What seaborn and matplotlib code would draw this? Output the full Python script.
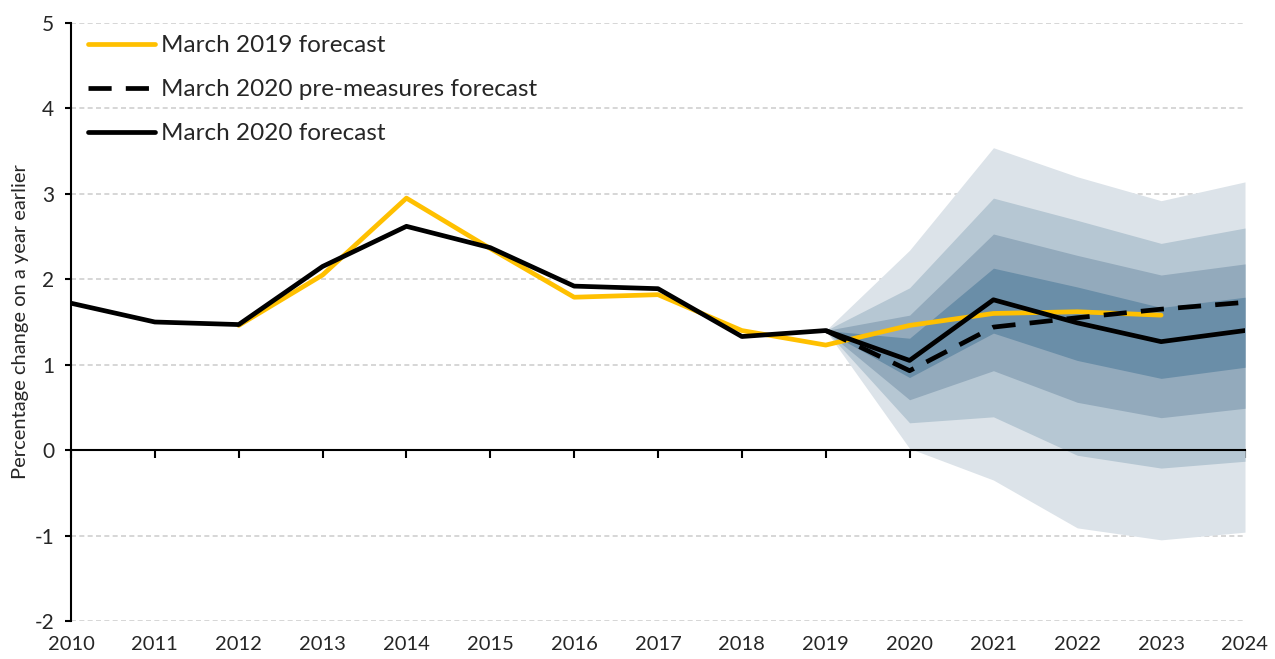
import matplotlib
matplotlib.use("Agg")
import matplotlib.pyplot as plt
import seaborn as sns
import pandas as pd
import numpy as np

# --- data ---
years = list(range(2010, 2025))
march2020 = [1.72, 1.50, 1.47, 2.15, 2.62, 2.37, 1.92, 1.89, 1.33, 1.40,
             1.05, 1.76, 1.49, 1.27, 1.40]

years_2019fc = list(range(2012, 2024))
march2019 = [1.46, 2.05, 2.95, 2.36, 1.79, 1.82, 1.40, 1.23,
             1.46, 1.60, 1.62, 1.58]

years_pre = list(range(2019, 2025))
pre_measures = [1.40, 0.93, 1.44, 1.55, 1.65, 1.73]

# fan chart boundaries (2019 = start point)
fan_years = list(range(2019, 2025))
fan_hi3 = [1.40, 2.34, 3.54, 3.20, 2.92, 3.14]
fan_hi2 = [1.40, 1.90, 2.95, 2.69, 2.42, 2.60]
fan_hi1 = [1.40, 1.58, 2.53, 2.28, 2.05, 2.18]
fan_hi0 = [1.40, 1.31, 2.13, 1.91, 1.67, 1.79]
fan_lo0 = [1.40, 0.85, 1.37, 1.05, 0.84, 0.97]
fan_lo1 = [1.40, 0.59, 0.93, 0.56, 0.38, 0.49]
fan_lo2 = [1.40, 0.32, 0.39, -0.06, -0.21, -0.13]
fan_lo3 = [1.40, 0.02, -0.35, -0.91, -1.05, -0.96]

fan_colours = ["#dce3e9", "#b6c7d3", "#93aabc", "#6a8ea8"]

yticks = [-2, -1, 0, 1, 2, 3, 4, 5]

sns.set_style("white")
plt.rcParams["font.family"] = ["Lato", "DejaVu Sans"]
plt.rcParams["axes.unicode_minus"] = False

fig = plt.figure(figsize=(12.75, 6.59), dpi=100)
ax = fig.add_axes([71 / 1275, 1 - 621 / 659, (1245 - 71) / 1275, (621 - 23) / 659])

# gridlines
for v in yticks:
    if v != 0:
        ax.axhline(v, color="#d0d0d0", lw=1.2, ls=(0, (3, 2)), zorder=0)

# fan
bands = [(fan_lo3, fan_hi3), (fan_lo2, fan_hi2), (fan_lo1, fan_hi1), (fan_lo0, fan_hi0)]
for (lo, hi), col in zip(bands, fan_colours):
    ax.fill_between(fan_years, lo, hi, color=col, lw=0, zorder=1)

df20 = pd.DataFrame({"year": years, "value": march2020})
df19 = pd.DataFrame({"year": years_2019fc, "value": march2019})
dfpre = pd.DataFrame({"year": years_pre, "value": pre_measures})

sns.lineplot(data=df19, x="year", y="value", ax=ax, color="#ffc000", lw=3.4,
             zorder=3, label="March 2019 forecast")
sns.lineplot(data=dfpre, x="year", y="value", ax=ax, color="black", lw=3.4,
             zorder=4, label="March 2020 pre-measures forecast")
ax.lines[-1].set_dashes([4.9, 3.0])
sns.lineplot(data=df20, x="year", y="value", ax=ax, color="black", lw=3.4,
             zorder=5, label="March 2020 forecast")

ax.set_xlim(2010, 2024)
ax.set_ylim(-2, 5)
ax.set_yticks(yticks)
ax.set_xlabel("")
ax.set_ylabel("Percentage change on a year earlier", fontsize=14.5, labelpad=4)

for s in ["top", "right"]:
    ax.spines[s].set_visible(False)
ax.spines["left"].set_color("black")
ax.spines["left"].set_linewidth(1.5)
ax.spines["bottom"].set_position(("data", 0))
ax.spines["bottom"].set_color("black")
ax.spines["bottom"].set_linewidth(1.5)
ax.spines["bottom"].set_zorder(6)

ax.set_xticks(years)
ax.tick_params(axis="x", direction="out", length=6, width=1.5, color="black",
               labelbottom=False, bottom=True)
ax.tick_params(axis="y", direction="out", length=4, width=1.5, color="black",
               left=True, labelsize=15, pad=8)

sec = ax.secondary_xaxis("bottom")
sec.set_xticks(years)
sec.set_xticklabels([str(y) for y in years], fontsize=14.5)
sec.tick_params(length=0, pad=11)
sec.spines["bottom"].set_visible(False)

leg = ax.legend(loc="upper left", bbox_to_anchor=(0.004, 1.0), frameon=False,
                fontsize=17.5, handlelength=2.75, handletextpad=0.25,
                labelspacing=0.95, borderaxespad=0.1)

fig.savefig("out.png", dpi=100)
